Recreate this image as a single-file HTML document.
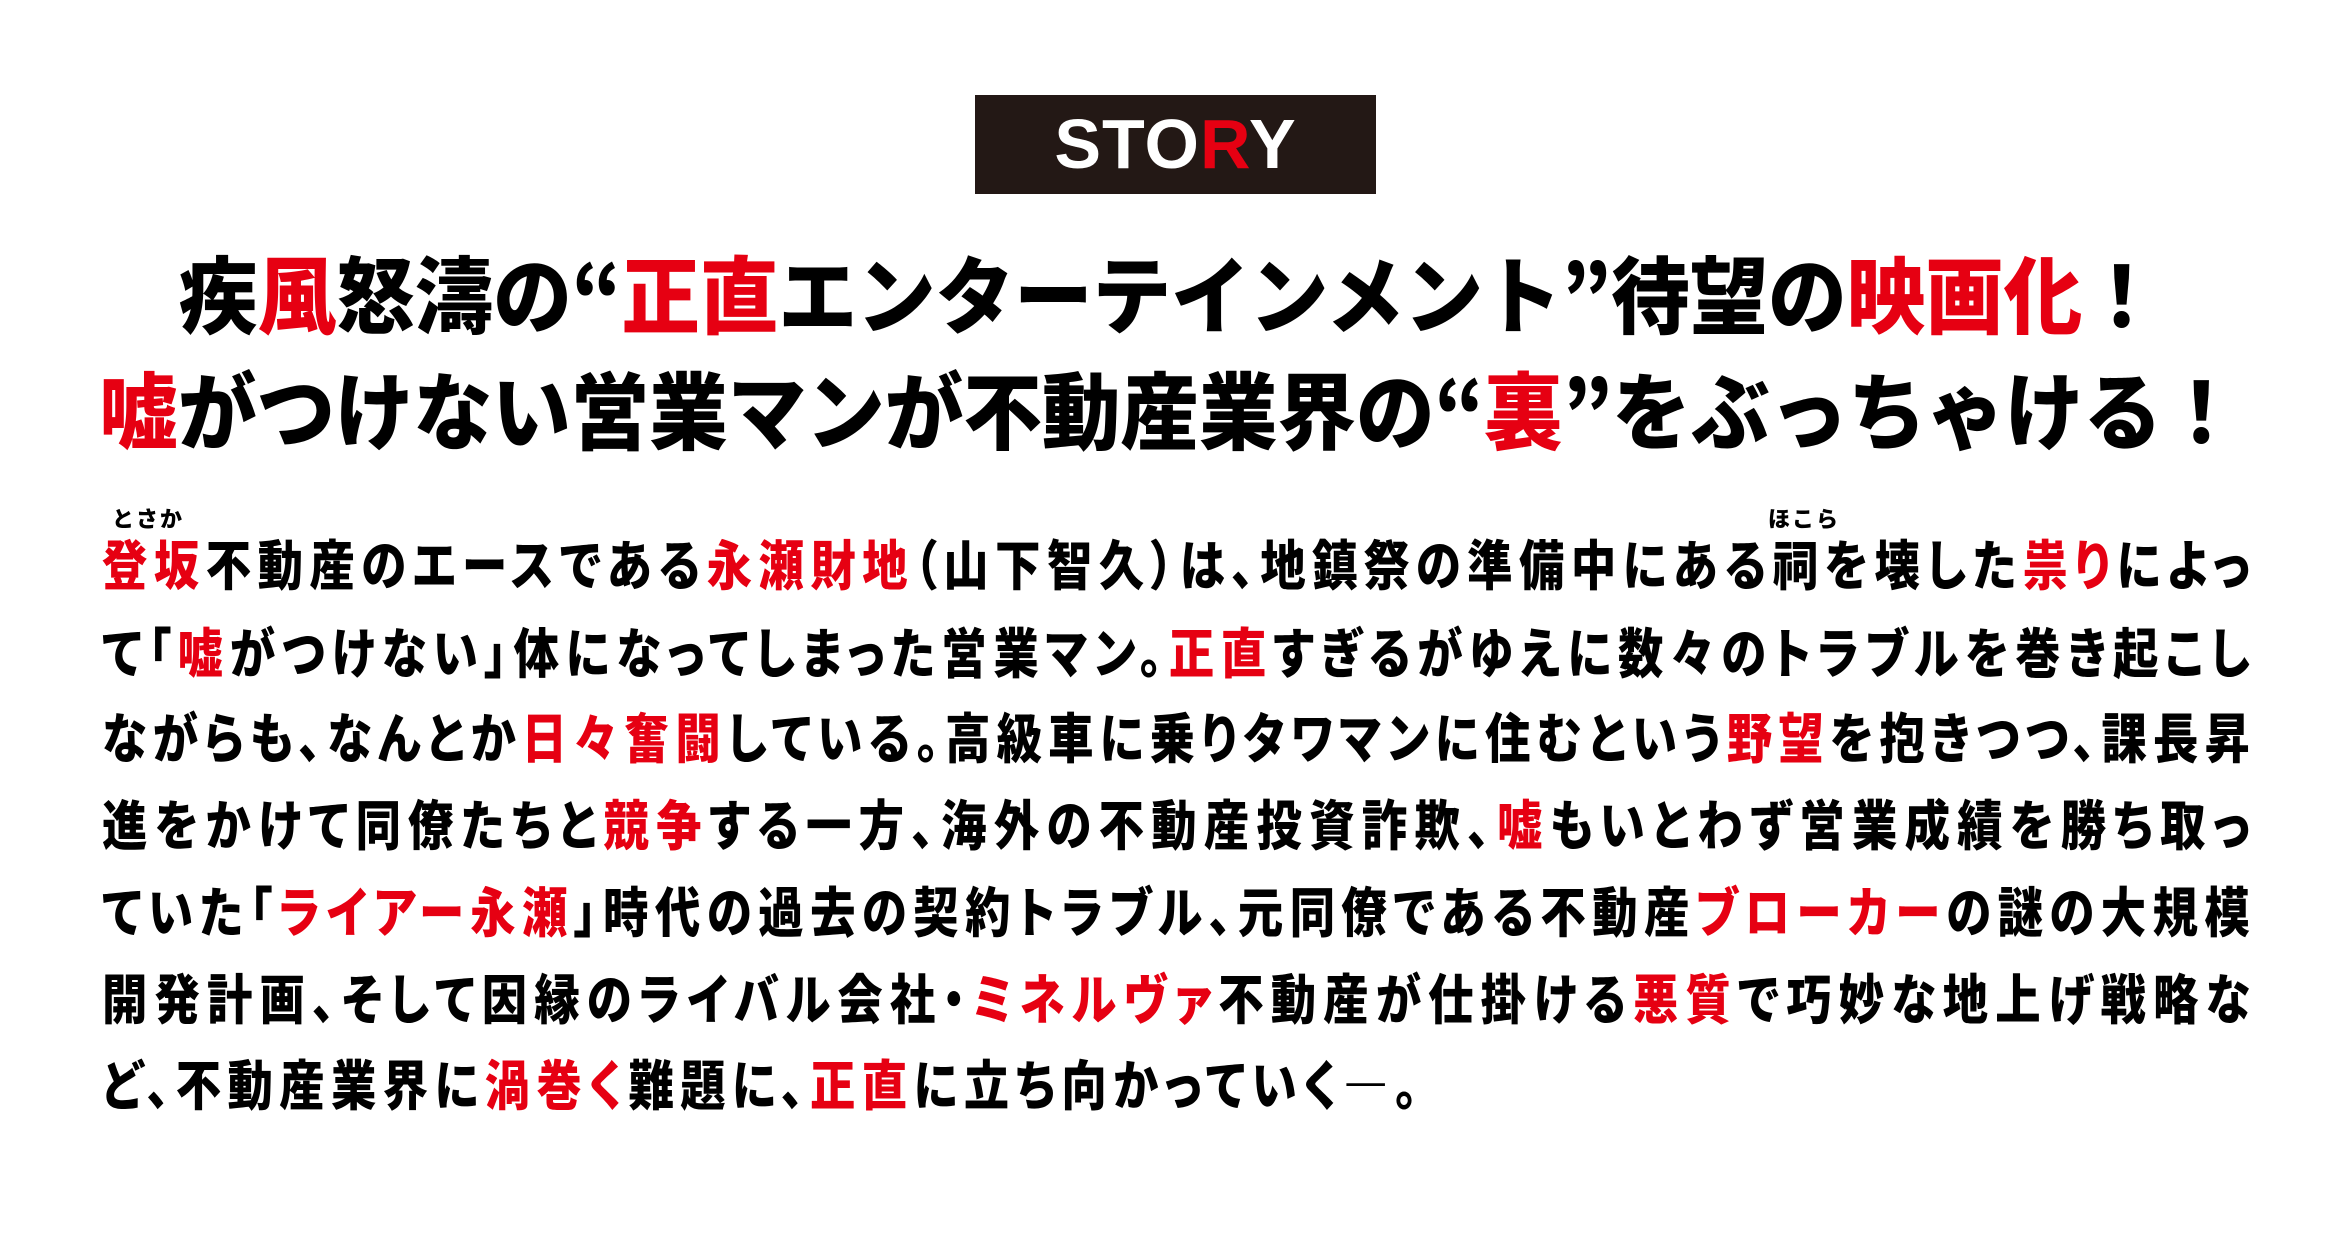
<!DOCTYPE html>
<html><head><meta charset="utf-8">
<style>
html,body{margin:0;padding:0;background:#fff;}
body{width:2340px;height:1240px;position:relative;overflow:hidden;font-family:"Liberation Sans","Noto Sans CJK JP",sans-serif;color:#000;}
.r{color:#e60012;}
#box{position:absolute;left:975px;top:95px;width:401px;height:99px;background:#231815;color:#fff;font-family:"Liberation Sans",sans-serif;font-weight:bold;font-size:70px;line-height:99px;text-align:center;letter-spacing:1px;}
.h{position:absolute;left:0;width:2340px;text-align:center;font-weight:900;font-size:84px;line-height:96px;white-space:nowrap;font-family:"Noto Sans CJK JP",sans-serif;transform:scaleX(0.935);transform-origin:1170px 0;}
.b{position:absolute;left:102px;width:2557px;font-weight:900;font-size:54px;line-height:66px;text-align:justify;text-align-last:justify;white-space:nowrap;font-family:"Noto Sans CJK JP",sans-serif;font-feature-settings:"palt";transform:scaleX(0.84);transform-origin:0 0;}
.ru{position:absolute;font-weight:900;font-size:22px;line-height:24px;font-family:"Noto Sans CJK JP",sans-serif;letter-spacing:2px;}
</style></head><body>
<div id="box">STO<span class="r">R</span>Y</div>
<div class="h" style="top:244px;">疾<span class="r">風</span>怒濤の“<span class="r">正直</span>エンターテインメント”待望の<span class="r">映画化</span>！</div>
<div class="h" style="top:360px;"><span class="r">嘘</span>がつけない営業マンが不動産業界の“<span class="r">裏</span>”をぶっちゃける！</div>

<div class="ru" style="left:112px;top:506px;">とさか</div>
<div class="ru" style="left:1768px;top:506px;">ほこら</div>

<div class="b" style="top:529px;"><span class="r">登坂</span>不動産のエースである<span class="r">永瀬財地</span>（山下智久）は、地鎮祭の準備中にある祠を壊した<span class="r">祟り</span>によっ</div>
<div class="b" style="top:617px;">て「<span class="r">嘘</span>がつけない」体になってしまった営業マン。<span class="r">正直</span>すぎるがゆえに数々のトラブルを巻き起こし</div>
<div class="b" style="top:702px;">ながらも、なんとか<span class="r">日々奮闘</span>している。高級車に乗りタワマンに住むという<span class="r">野望</span>を抱きつつ、課長昇</div>
<div class="b" style="top:789px;">進をかけて同僚たちと<span class="r">競争</span>する一方、海外の不動産投資詐欺、<span class="r">嘘</span>もいとわず営業成績を勝ち取っ</div>
<div class="b" style="top:876px;">ていた「<span class="r">ライアー永瀬</span>」時代の過去の契約トラブル、元同僚である不動産<span class="r">ブローカー</span>の謎の大規模</div>
<div class="b" style="top:963px;">開発計画、そして因縁のライバル会社・<span class="r">ミネルヴァ</span>不動産が仕掛ける<span class="r">悪質</span>で巧妙な地上げ戦略な</div>
<div class="b" style="top:1049px;width:1566px;">ど、不動産業界に<span class="r">渦巻く</span>難題に、<span class="r">正直</span>に立ち向かっていく―。</div>
</body></html>
